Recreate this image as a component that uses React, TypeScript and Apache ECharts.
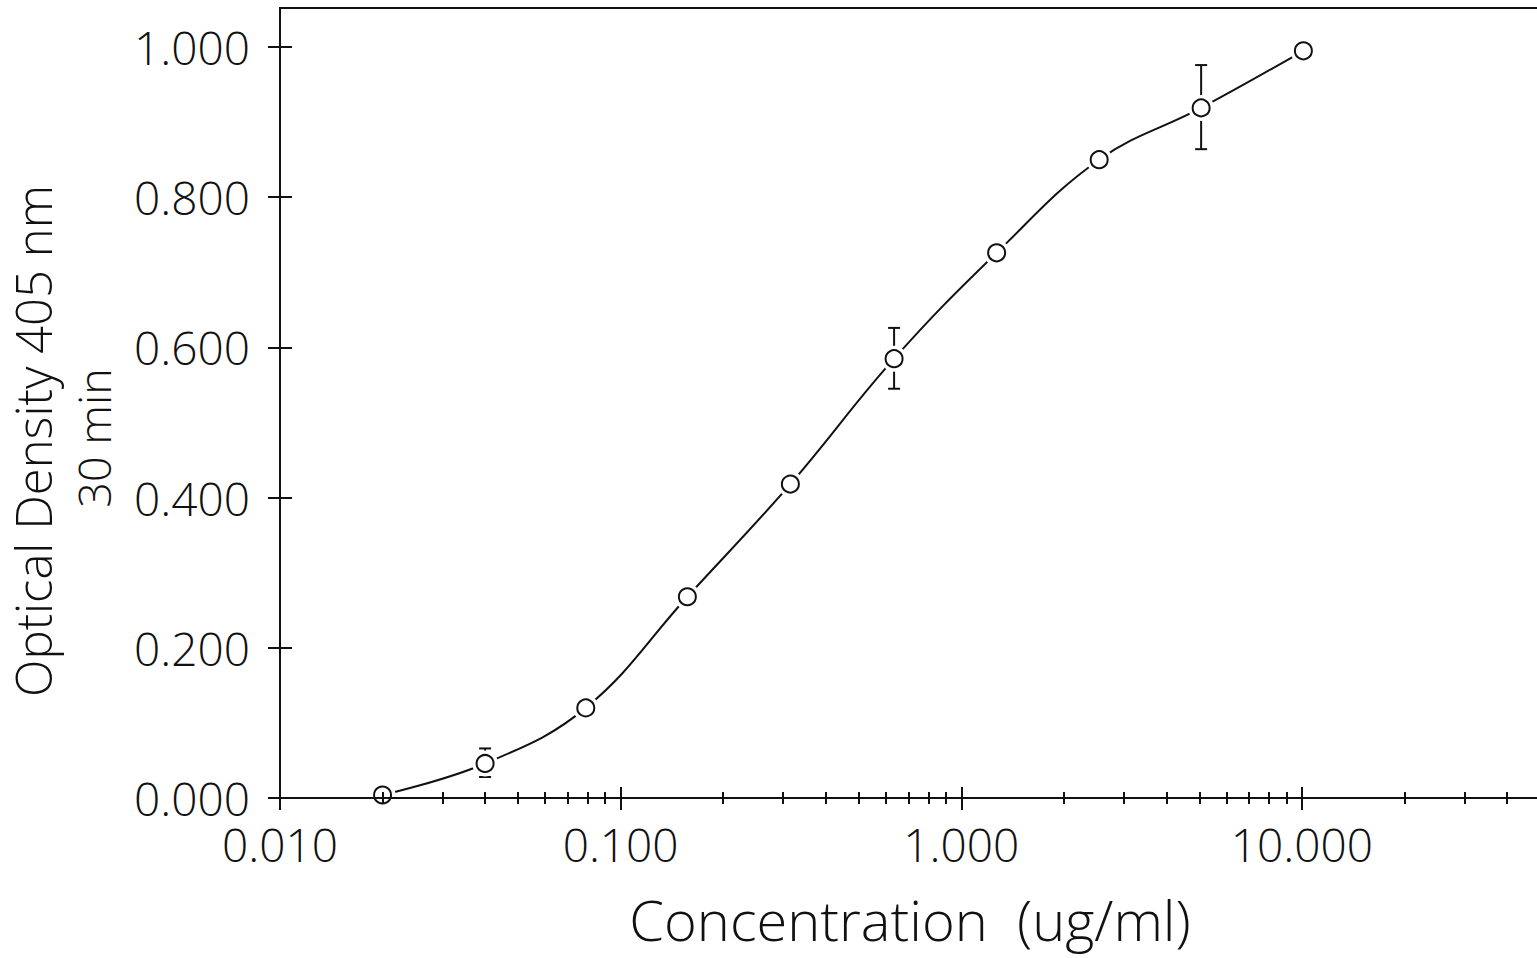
import React, { useEffect, useRef } from "react";
import * as echarts from "echarts";

// ---- data ----
const concentrations = [0.02, 0.04, 0.079, 0.157, 0.315, 0.635, 1.27, 2.54, 5.06, 10.1];
const opticalDensity = [0.004, 0.046, 0.12, 0.268, 0.418, 0.585, 0.726, 0.85, 0.919, 0.995];
// error bars: [concentration, low, high]
const errorBars = [
  [0.04, 0.028, 0.066],
  [0.635, 0.545, 0.626],
  [5.06, 0.864, 0.976],
];
const xMajorTicks = [0.01, 0.1, 1, 10];
const xMinorTicks = [
  0.02, 0.03, 0.04, 0.05, 0.06, 0.07, 0.08, 0.09,
  0.2, 0.3, 0.4, 0.5, 0.6, 0.7, 0.8, 0.9,
  2, 3, 4, 5, 6, 7, 8, 9,
  20, 30, 40,
];
const yTicks = [0, 0.2, 0.4, 0.6, 0.8, 1.0];
const X_MIN = 0.01;
const X_MAX = 50;
const Y_MIN = 0;
const Y_MAX = 1.052;

const FONT = "'Open Sans', 'DejaVu Sans', sans-serif";
const WEIGHT = 300;
const INK = "#111";

export default function App() {
  const ref = useRef<HTMLDivElement>(null);

  useEffect(() => {
    if (!ref.current) return;
    const chart = echarts.init(ref.current, undefined, { renderer: "svg" });

    const xBase: any = {
      type: "log",
      logBase: 10,
      min: X_MIN,
      max: X_MAX,
      gridIndex: 0,
      position: "bottom",
      splitLine: { show: false },
      z: 5,
    };
    const yBase: any = {
      type: "value",
      min: Y_MIN,
      max: Y_MAX,
      gridIndex: 0,
      position: "left",
      splitLine: { show: false },
      z: 5,
    };
    const tickStyle = { color: INK, width: 2 };

    const pts = concentrations.map((c, i) => [c, opticalDensity[i]]);

    chart.setOption({
      animation: false,
      backgroundColor: "#fff",
      grid: {
        left: 280,
        top: 8,
        right: 20,
        bottom: 160,
        outerBoundsMode: "none",
        containLabel: false,
        show: true,
        borderColor: INK,
        borderWidth: 2,
        backgroundColor: "transparent",
      },
      xAxis: [
        {
          ...xBase,
          axisLine: { show: true, onZero: false, lineStyle: { color: INK, width: 2 } },
          axisTick: { show: true, customValues: xMajorTicks, length: 12, inside: false, lineStyle: tickStyle },
          axisLabel: {
            show: true,
            customValues: xMajorTicks,
            formatter: (v: number) => v.toFixed(3),
            margin: 23,
            fontSize: 46,
            fontFamily: FONT,
            fontWeight: WEIGHT,
            color: INK,
          },
          name: "Concentration  (ug/ml)",
          nameLocation: "middle",
          nameGap: 93,
          nameTextStyle: { fontSize: 56, fontFamily: FONT, fontWeight: WEIGHT, color: INK, lineHeight: 56 },
        },
        {
          ...xBase,
          axisLine: { show: false, onZero: false },
          axisTick: { show: true, customValues: xMajorTicks, length: 11, inside: true, lineStyle: tickStyle },
          axisLabel: { show: false },
        },
        {
          ...xBase,
          axisLine: { show: false, onZero: false },
          axisTick: { show: true, customValues: xMinorTicks, length: 6, inside: false, lineStyle: tickStyle },
          axisLabel: { show: false },
        },
        {
          ...xBase,
          axisLine: { show: false, onZero: false },
          axisTick: { show: true, customValues: xMinorTicks, length: 6, inside: true, lineStyle: tickStyle },
          axisLabel: { show: false },
        },
      ],
      yAxis: [
        {
          ...yBase,
          axisLine: { show: true, onZero: false, lineStyle: { color: INK, width: 2 } },
          axisTick: { show: true, customValues: yTicks, length: 12, inside: false, lineStyle: tickStyle },
          axisLabel: {
            show: true,
            customValues: yTicks,
            formatter: (v: number) => v.toFixed(3),
            margin: 30,
            fontSize: 46,
            fontFamily: FONT,
            fontWeight: WEIGHT,
            color: INK,
          },
        },
        {
          ...yBase,
          axisLine: { show: false, onZero: false },
          axisTick: { show: true, customValues: yTicks, length: 12, inside: true, lineStyle: tickStyle },
          axisLabel: { show: false },
        },
      ],
      graphic: [
        {
          type: "text",
          x: 33,
          y: 441,
          rotation: Math.PI / 2,
          style: {
            text: "Optical Density 405 nm",
            fontSize: 49,
            fontFamily: FONT,
            fontWeight: WEIGHT,
            fill: INK,
            align: "center",
            verticalAlign: "middle",
          },
        },
        {
          type: "text",
          x: 93,
          y: 438,
          rotation: Math.PI / 2,
          style: {
            text: "30 min",
            fontSize: 45,
            fontFamily: FONT,
            fontWeight: WEIGHT,
            fill: INK,
            align: "center",
            verticalAlign: "middle",
          },
        },
      ],
      series: [
        {
          type: "line",
          xAxisIndex: 0,
          yAxisIndex: 0,
          data: pts,
          smooth: 0.4,
          symbol: "none",
          lineStyle: { color: INK, width: 2 },
          z: 2,
          silent: true,
        },
        {
          type: "custom",
          xAxisIndex: 0,
          yAxisIndex: 0,
          data: errorBars,
          z: 2,
          silent: true,
          renderItem: (params: any, api: any) => {
            const x = api.value(0);
            const lo = api.coord([x, api.value(1)]);
            const hi = api.coord([x, api.value(2)]);
            const cap = 6;
            const st = { stroke: INK, lineWidth: 2 };
            return {
              type: "group",
              children: [
                { type: "line", shape: { x1: lo[0], y1: lo[1], x2: hi[0], y2: hi[1] }, style: st },
                { type: "line", shape: { x1: lo[0] - cap, y1: lo[1], x2: lo[0] + cap, y2: lo[1] }, style: st },
                { type: "line", shape: { x1: hi[0] - cap, y1: hi[1], x2: hi[0] + cap, y2: hi[1] }, style: st },
              ],
            };
          },
        },
        {
          type: "scatter",
          xAxisIndex: 0,
          yAxisIndex: 0,
          data: pts,
          symbol: "circle",
          symbolSize: 26,
          itemStyle: { color: "#fff", opacity: 1 },
          z: 3,
          silent: true,
        },
        {
          type: "scatter",
          xAxisIndex: 0,
          yAxisIndex: 0,
          data: pts,
          symbol: "circle",
          symbolSize: 17,
          itemStyle: { color: "#fff", borderColor: INK, borderWidth: 2, opacity: 1 },
          z: 4,
          silent: true,
        },
      ],
    });

    return () => chart.dispose();
  }, []);

  return (
    <div
      style={{
        position: "fixed",
        left: 0,
        top: 0,
        width: 1537,
        height: 958,
        overflow: "hidden",
        background: "#fff",
      }}
    >
      <div ref={ref} style={{ width: 1560, height: 958 }} />
    </div>
  );
}
